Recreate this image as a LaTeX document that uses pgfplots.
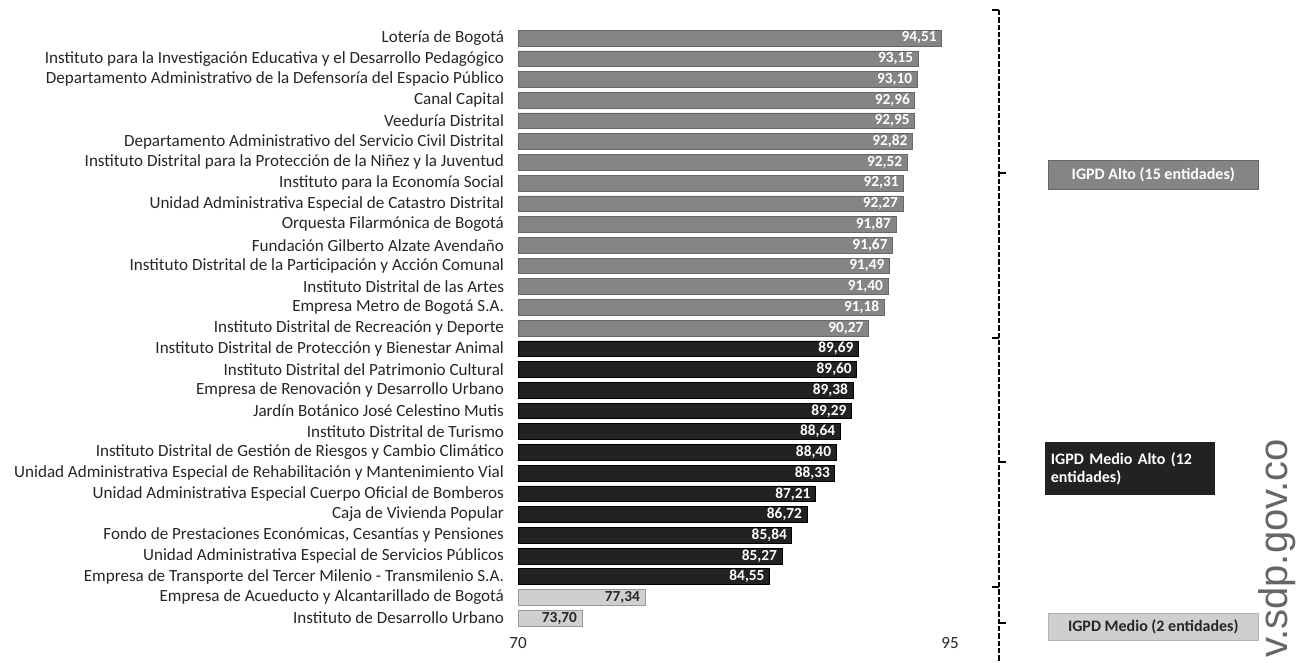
\documentclass[border=0pt]{standalone}
\usepackage{pgfplots}
\pgfplotsset{compat=1.18}
\usepackage{fontspec}
\setmainfont{Carlito}
\newfontfamily\wmfont{Liberation Sans}
\definecolor{alto}{HTML}{858585}
\definecolor{medalto}{HTML}{222222}
\definecolor{medio}{HTML}{CFCFCF}
\definecolor{txt}{HTML}{262626}
\begin{document}
\begin{tikzpicture}[x=0.75pt,y=-0.75pt]
\useasboundingbox (0,0) rectangle (1301,662);
\begin{axis}[
  at={(388.5pt,-471.3pt)}, anchor=south west,
  scale only axis, width=324pt, height=450.6pt,
  xbar, bar width=11.8pt,
  xmin=70, xmax=95, ymin=0.5, ymax=29.5,
  y dir=reverse,
  axis line style={draw=none},
  major tick length=0pt,
  xtick={70,95},
  ytick={1,...,29},
  /pgf/number format/assume math mode=true,
  tick label style={font=\fontsize{12.8}{13}\selectfont, text=txt},
  xticklabel style={yshift=-3pt},
  yticklabel style={xshift=-7pt},
  yticklabels={
    {Lotería de Bogotá},
    {Instituto para la Investigación Educativa y el Desarrollo Pedagógico},
    {Departamento Administrativo de la Defensoría del Espacio Público},
    {Canal Capital},
    {Veeduría Distrital},
    {Departamento Administrativo del Servicio Civil Distrital},
    {Instituto Distrital para la Protección de la Niñez y la Juventud},
    {Instituto para la Economía Social},
    {Unidad Administrativa Especial de Catastro Distrital},
    {Orquesta Filarmónica de Bogotá},
    {Fundación Gilberto Alzate Avendaño},
    {Instituto Distrital de la Participación y Acción Comunal},
    {Instituto Distrital de las Artes},
    {Empresa Metro de Bogotá S.A.},
    {Instituto Distrital de Recreación y Deporte},
    {Instituto Distrital de Protección y Bienestar Animal},
    {Instituto Distrital del Patrimonio Cultural},
    {Empresa de Renovación y Desarrollo Urbano},
    {Jardín Botánico José Celestino Mutis},
    {Instituto Distrital de Turismo},
    {Instituto Distrital de Gestión de Riesgos y Cambio Climático},
    {Unidad Administrativa Especial de Rehabilitación y Mantenimiento Vial},
    {Unidad Administrativa Especial Cuerpo Oficial de Bomberos},
    {Caja de Vivienda Popular},
    {Fondo de Prestaciones Económicas, Cesantías y Pensiones},
    {Unidad Administrativa Especial de Servicios Públicos},
    {Empresa de Transporte del Tercer Milenio - Transmilenio S.A.},
    {Empresa de Acueducto y Alcantarillado de Bogotá},
    {Instituto de Desarrollo Urbano}},
  nodes near coords={\pgfmathprintnumber[fixed,fixed zerofill,precision=2,use comma,assume math mode=true]{\pgfplotspointmeta}},
  nodes near coords style={anchor=east, xshift=-2.5pt, inner sep=1pt, font=\bfseries\fontsize{11.5}{12}\selectfont, text=white},
  point meta=x,
]
\addplot[bar shift=0pt, fill=alto, draw=black!60, line width=0.4pt] coordinates {
 (94.51,1) (93.15,2) (93.10,3) (92.96,4) (92.95,5) (92.82,6) (92.52,7) (92.31,8)
 (92.27,9) (91.87,10) (91.67,11) (91.49,12) (91.40,13) (91.18,14) (90.27,15)};
\addplot[bar shift=0pt, fill=medalto, draw=black, line width=0.4pt] coordinates {
 (89.69,16) (89.60,17) (89.38,18) (89.29,19) (88.64,20) (88.40,21) (88.33,22)
 (87.21,23) (86.72,24) (85.84,25) (85.27,26) (84.55,27)};
\addplot[bar shift=0pt, fill=medio, draw=black!40, line width=0.4pt, nodes near coords style={text=txt}] coordinates {
 (77.34,28) (73.70,29)};
\end{axis}
% grouping axis on the right
\draw[dashed, dash pattern=on 4pt off 1.5pt, line width=1.6pt, black] (999,10) -- (999,662);
\draw[line width=1.2pt] (992,10) -- (999,10);
\draw[line width=1.2pt] (992,338) -- (999,338);
\draw[line width=1.2pt] (992,587) -- (999,587);
\draw[line width=1.2pt] (999,173) -- (1006,173);
\draw[line width=1.2pt] (999,462) -- (1006,462);
\draw[line width=1.2pt] (999,623) -- (1006,623);
% group labels
\node[fill=alto, draw=black!60, anchor=north west, minimum width=157.5pt, minimum height=21.75pt, inner sep=2pt,
  font=\bfseries\fontsize{12}{13}\selectfont, text=white] at (1048,160) {IGPD Alto (15 entidades)};
\node[fill=medalto, anchor=north west, minimum width=127.5pt, minimum height=39.75pt, inner sep=4pt,
  align=left, text width=119pt, font=\bfseries\fontsize{12}{14}\selectfont, text=white] at (1045,442) {IGPD Medio Alto (12\\entidades)};
\node[fill=medio, draw=black!30, anchor=north west, minimum width=157.5pt, minimum height=20pt, inner sep=2pt,
  font=\bfseries\fontsize{12}{13}\selectfont, text=txt] at (1048,613) {IGPD Medio (2 entidades)};
% scan watermark
\node[rotate=90, anchor=west, inner sep=0pt, text=black!60, font=\wmfont\fontsize{30}{32}\selectfont] at (1277,658) {v.sdp.gov.co};
\end{tikzpicture}
\end{document}
